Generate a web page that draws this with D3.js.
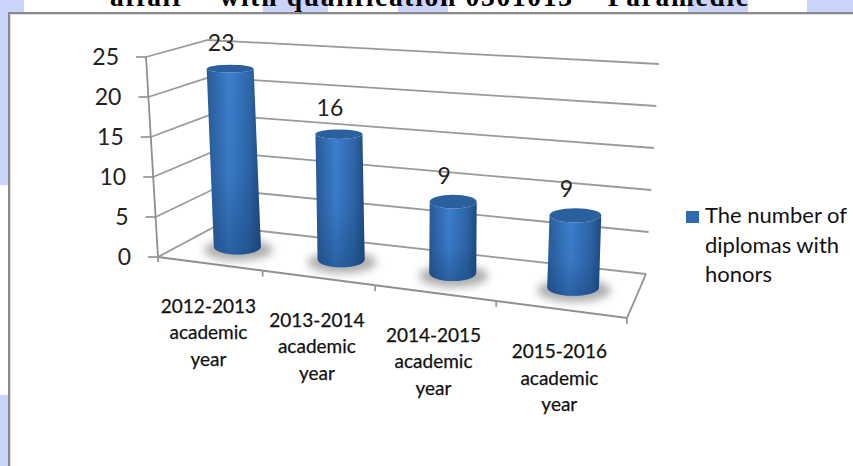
<!DOCTYPE html>
<html><head><meta charset="utf-8">
<style>html,body{margin:0;padding:0;background:#fff;overflow:hidden}svg{display:block}</style>
<script src="https://cdn.jsdelivr.net/npm/d3@7"></script></head><body>
<script>
const categories = ["2012-2013","2013-2014","2014-2015","2015-2016"];
const categorySuffix = ["academic","year"];
const diplomas = [23,16,9,9];
const yTicks = [0,5,10,15,20,25];
const seriesName = ["The number of","diplomas with","honors"];
const titleText = "affair \" with qualification 0301013 \" Paramedic";

const W=853,H=466;
const svg=d3.select("body").append("svg").attr("width",W).attr("height",H);
const defs=svg.append("defs");
const FONT="Lato, 'Open Sans', sans-serif";

// page background fragments
const lav="#c9d3fb";
const bgPatches=[[0,0,8,185],[0,395,8,71],[0,0,24,12],[263,0,65,12],[398,0,50,12],[688,0,60,12],[807,0,46,12]];
svg.append("g").selectAll("rect").data(bgPatches).join("rect")
  .attr("x",d=>d[0]).attr("y",d=>d[1]).attr("width",d=>d[2]).attr("height",d=>d[3]).attr("fill",lav);
svg.append("text").attr("x",110).attr("y",6).attr("font-family","'Liberation Serif',serif")
  .attr("font-weight","bold").attr("font-size",27.5).attr("fill","#000")
  .attr("textLength",638).attr("lengthAdjust","spacing").text(titleText);
// slide frame
svg.append("rect").attr("x",9).attr("y",13).attr("width",W).attr("height",H-13).attr("fill","#fff");
svg.append("path").attr("d",`M9,${H}V13H${W}`).attr("fill","none").attr("stroke","#8a8a8a").attr("stroke-width",2);
svg.append("path").attr("d",`M10.5,${H}V14.5H${W}`).attr("fill","none").attr("stroke","#dcdcdc").attr("stroke-width",1);

// box corners of the 3-D plot as seen on screen
const box={
  floor:{fl:[158,257],fr:[627,318],bl:[216,226],br:[646,274]},
  top:  {fl:[146,57], fr:[632,126],bl:[208,40], br:[659,64]}
};
const w=1.16, barDepth=.52;
const slot=d3.scaleLinear().domain([0,categories.length]).range([0,1]);
const yScale=d3.scaleLinear().domain([0,25]).range([0,1]);
const persp=t=>t/(t+w*(1-t));
const mix=(a,b,t)=>[a[0]+(b[0]-a[0])*t,a[1]+(b[1]-a[1])*t];
function project(c,v,d){
  const T=persp(slot(c));
  const lvl=k=>mix(mix(box[k].fl,box[k].fr,T),mix(box[k].bl,box[k].br,T),d);
  return mix(lvl("floor"),lvl("top"),yScale(v));
}
const grid=svg.append("g").attr("fill","none").attr("stroke","#9a9a9a").attr("stroke-width",1.8);
const line=d3.line();
const nC=categories.length;
yTicks.forEach(v=>{
  grid.append("path").attr("d",line([project(0,v,0),project(0,v,1),project(nC,v,1)]));
  const p=project(0,v,0);
  grid.append("path").attr("d",line([p,[p[0]-10,p[1]]]));
});
grid.append("path").attr("d",line([project(0,25,0),project(0,0,0),[158,262]])).attr("stroke","#8f8f8f");
grid.append("path").attr("d",line([project(0,0,0),project(nC,0,0),project(nC,0,1)])).attr("stroke","#8f8f8f");
d3.range(1,nC+1).forEach(c=>{
  const p=project(c,0,0);
  grid.append("path").attr("d",line([p,[p[0],p[1]+6]]));
});
svg.append("g").selectAll("text").data(yTicks).join("text")
  .attr("x",d=>project(0,d,0)[0]-27).attr("y",d=>project(0,d,0)[1]+8)
  .attr("text-anchor","end").attr("font-family",FONT).attr("font-size",23).attr("fill","#222").text(d=>d);

// gradients
const gh=defs.append("linearGradient").attr("id","barH");
[[0,"#285a98"],[0.42,"#3c7fcd"],[0.8,"#2d65a8"],[1,"#1f4a7e"]].forEach(s=>gh.append("stop").attr("offset",s[0]).attr("stop-color",s[1]));
const gv=defs.append("linearGradient").attr("id","barV").attr("x2",0).attr("y2",1);
[[0,"#123a6a",0],[0.55,"#123a6a",0.08],[1,"#123a6a",0.42]].forEach(s=>gv.append("stop").attr("offset",s[0]).attr("stop-color",s[1]).attr("stop-opacity",s[2]));
defs.append("filter").attr("id","soft").attr("x","-30%").attr("y","-60%").attr("width","160%").attr("height","220%")
  .append("feGaussianBlur").attr("stdDeviation",4);

const rxAt=d3.scaleLinear().domain([200,460,580]).range([23.5,23.5,26]);
const ryAt=d3.scaleLinear().domain([60,130,205,290]).range([3.8,4.6,7,8.5]).clamp(true);
const bars=categories.map((c,i)=>{
  const base=project(i+.5,0,barDepth), top=project(i+.5,diplomas[i],barDepth);
  return {i,v:diplomas[i],base,top,rx:rxAt(base[0]),rb:ryAt(base[1]),rt:ryAt(top[1])};
});
const gBars=svg.append("g");
gBars.selectAll("ellipse.shadow").data(bars).join("ellipse").attr("class","shadow")
  .attr("cx",d=>d.base[0]+1).attr("cy",d=>d.base[1]+3).attr("rx",d=>d.rx+11).attr("ry",d=>d.rb+3)
  .attr("fill","#777").attr("opacity",.6).attr("filter","url(#soft)");
const bodyPath=d=>`M${d.top[0]-d.rx},${d.top[1]}L${d.base[0]-d.rx},${d.base[1]}A${d.rx},${d.rb} 0 0 0 ${d.base[0]+d.rx},${d.base[1]}L${d.top[0]+d.rx},${d.top[1]}A${d.rx},${d.rt} 0 0 1 ${d.top[0]-d.rx},${d.top[1]}Z`;
gBars.selectAll("path.body").data(bars).join("path").attr("class","body").attr("d",bodyPath).attr("fill","url(#barH)");
gBars.selectAll("path.shade").data(bars).join("path").attr("class","shade").attr("d",bodyPath).attr("fill","url(#barV)");
gBars.selectAll("ellipse.cap").data(bars).join("ellipse").attr("class","cap")
  .attr("cx",d=>d.top[0]).attr("cy",d=>d.top[1]).attr("rx",d=>d.rx).attr("ry",d=>d.rt).attr("fill","#2a609d");

svg.append("g").selectAll("text").data(bars).join("text")
  .attr("x",d=>d.top[0]-9).attr("y",d=>d.top[1]-18).attr("text-anchor","middle")
  .attr("font-family",FONT).attr("font-size",23).attr("fill","#222").text(d=>d.v);

const cat=svg.append("g").attr("font-family",FONT).attr("font-size",19).attr("fill","#111")
  .attr("text-anchor","middle").attr("stroke","#111").attr("stroke-width",.25);
categories.forEach((c,i)=>{
  const p=project(i+.5,0,0);
  [c,...categorySuffix].forEach((t,k)=>cat.append("text").attr("x",p[0]-1).attr("y",p[1]+49+k*26.5).text(t));
});

svg.append("rect").attr("x",686).attr("y",211).attr("width",13).attr("height",12).attr("fill","#2f69ae");
svg.append("g").attr("font-family",FONT).attr("font-size",22).attr("fill","#111")
  .selectAll("text").data(seriesName).join("text").attr("x",705).attr("y",(d,i)=>223+i*29.5).text(d=>d);
</script></body></html>
